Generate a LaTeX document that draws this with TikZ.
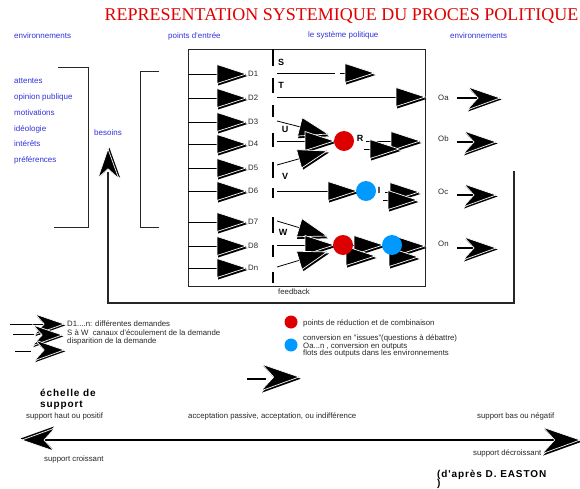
\documentclass[tikz,border=0pt]{standalone}
\usepackage{fontspec}
\setmainfont{Liberation Sans}
\newfontfamily\titlefont{Liberation Serif}
\newfontfamily\spacedbold[LetterSpace=9]{Liberation Sans Bold}
\definecolor{tblue}{RGB}{50,50,220}
\definecolor{tred}{RGB}{225,0,0}
\definecolor{dred}{RGB}{220,0,0}
\definecolor{dblue}{RGB}{0,153,255}
\definecolor{txt}{RGB}{40,40,40}
\tikzset{
  tri/.pic={
    \fill[black] (-28,-7.5) -- (1.5,2) -- (-28,11.5) -- cycle;
    \filldraw[fill=black,draw=white,line width=0.7] (-29,-9.5) -- (0,0) -- (-29,9.5) -- cycle;
  },
  chev/.pic={
    \fill[black] (1.5,1.5) -- (-31,-9.5) -- (-21,1.5) -- (-32,13.5) -- cycle;
    \filldraw[fill=black,draw=white,line width=0.7] (0,0) -- (-32,-11) -- (-22,0) -- (-33,12) -- cycle;
  },
  boxline/.style={draw=black!85,line width=0.9},
  chanline/.style={draw=black,line width=0.8},
  sepline/.style={draw=black,line width=2},
  headtext/.style={font=\fontsize{8}{9}\selectfont,text=tblue,inner sep=0,anchor=west},
  smalltext/.style={font=\fontsize{7.8}{9}\selectfont,text=txt,inner sep=0,anchor=west},
  boldlab/.style={font=\bfseries\fontsize{9}{10}\selectfont,inner sep=0},
  bigbold/.style={font=\spacedbold\fontsize{10}{11}\selectfont,inner sep=0,anchor=west},
  reddot/.style={circle,fill=dred,minimum size=20,inner sep=0},
  bluedot/.style={circle,fill=dblue,minimum size=20,inner sep=0},
}
\begin{document}
\begin{tikzpicture}[x=1pt,y=-1pt]
\useasboundingbox (0,0) rectangle (580,489);
\fill[white] (0,0) rectangle (580,489);

% title and headings
\node[font=\titlefont\fontsize{18}{20}\selectfont,text=tred,inner sep=0] (title) at (341.5,16) {REPRESENTATION SYSTEMIQUE DU PROCES POLITIQUE};
\node[headtext] (h1) at (14,36) {environnements};
\node[headtext] (h2) at (168,36) {points d'entrée};
\node[headtext] (h3) at (308,35) {le système politique};
\node[headtext] (h4) at (450,36) {environnements};

% left list
\foreach \y/\t [count=\i] in {81/attentes,97/opinion publique,113/motivations,129/idéologie,144/intérêts,160/préférences}
  \node[headtext] (env\i) at (14,\y) {\t};
\node[headtext] (bes) at (94,133) {besoins};

% brackets
\draw[boxline] (58,67) -- (88,67) -- (88,227) -- (54,227);
\draw[boxline] (159,71) -- (140,71) -- (140,227) -- (159,227);

% inner box
\draw[boxline] (188,49) rectangle (425,286);

% separator
\foreach \a/\b in {49/66,78/93,105/117,133/147,162/178,188/198,217/233,245/257,272/283}
  \draw[sepline] (273,\a) -- (273,\b);

% entry rows
\foreach \y/\l [count=\i] in {74/D1,98/D2,122/D3,144/D4,168/D5,191/D6,222/D7,246/D8,268/Dn} {
  \coordinate (in\i) at (188,\y);
  \coordinate (d\i) at (246,\y);
  \draw[chanline] (in\i) -- (d\i);
  \pic at (d\i) {tri};
  \node[smalltext] (lab\i) at (248,\y) {\l};
}

% channel labels
\node[boldlab] (S) at (281,62) {S};
\node[boldlab] (T) at (281,85) {T};
\node[boldlab] (U) at (285,129) {U};
\node[boldlab] (V) at (285,176) {V};
\node[boldlab] (W) at (283,232) {W};
\node[boldlab] (R) at (360,138) {R};
\node[boldlab] (I) at (379,190) {I};

% S channel
\coordinate (s0) at (277,73); \coordinate (s1) at (335,73);
\draw[chanline] (s0) -- (s1);
\draw[chanline] (340,73) -- (346,73);
\pic at (374,73) {tri};
% T channel
\coordinate (t0) at (277,97); \coordinate (t1) at (425,97);
\draw[chanline] (t0) -- (t1);
\pic at (t1) {tri};
% U / D4 / V
\coordinate (u0) at (277,121); \coordinate (u1) at (328,134);
\draw[chanline] (u0) -- (u1); \pic[rotate=-14.3] at (u1) {tri};
\coordinate (m0) at (277,141); \coordinate (m1) at (334,141);
\draw[chanline] (m0) -- (m1); \pic at (m1) {tri};
\coordinate (v0) at (277,165); \coordinate (v1) at (327,151);
\draw[chanline] (v0) -- (v1); \pic[rotate=15.6] at (v1) {tri};
% R outputs
\coordinate (ro1) at (420,141);
\draw[chanline] (366,141) -- (ro1); \pic at (ro1) {tri};
\draw[chanline] (364,149) -- (371,149); \pic at (399,149) {tri};
% D6 / I
\coordinate (i0) at (277,191); \coordinate (i1) at (357,191);
\draw[chanline] (i0) -- (i1); \pic at (i1) {tri};
\draw[chanline] (385,192) -- (419,192); \pic at (419,192) {tri};
\draw[chanline] (383,200) -- (390,200); \pic at (417,200) {tri};
% W / D8 / Dn
\coordinate (w0) at (277,221); \coordinate (w1) at (327,236);
\draw[chanline] (w0) -- (w1); \pic[rotate=-16.7] at (w1) {tri};
\coordinate (e0) at (277,245); \coordinate (e1) at (334,245);
\draw[chanline] (e0) -- (e1); \pic at (e1) {tri};
\coordinate (n0) at (277,267); \coordinate (n1) at (327,252);
\draw[chanline] (n0) -- (n1); \pic[rotate=16.7] at (n1) {tri};
\draw[chanline] (353,245) -- (383,245); \pic at (383,245) {tri};
\pic at (375,256) {tri};
\draw[chanline] (402,246) -- (425,246); \pic at (425,246) {tri};
\pic at (418,257) {tri};

% dots
\node[reddot] (r1) at (344,141) {};
\node[bluedot] (b1) at (366,191) {};
\node[reddot] (r2) at (343,245) {};
\node[bluedot] (b2) at (392,245) {};

% outputs
\foreach \y/\o/\yy/\tip in {98/Oa/98/500,139/Ob/142/496,192/Oc/195/496,244/On/248/496} {
  \node[smalltext] (\o) at (438,\y) {\o};
  \coordinate (\o s) at (457,\yy);
  \coordinate (\o t) at (\tip,\yy);
  \draw[line width=1.5] (\o s) -- ++(24,0);
  \pic at (\o t) {chev};
}

% feedback loop
\coordinate (fb1) at (514,171);
\coordinate (fb2) at (514,303);
\coordinate (fb3) at (108,303);
\coordinate (fbt) at (108,149);
\draw[boxline,line width=1.2] (fb1) -- (fb2) -- (fb3) -- (108,172);
\pic[rotate=90,scale=0.9] at (fbt) {chev};
\node[smalltext,anchor=center] (fbl) at (294,292) {feedback};

% legend left
\draw[line width=1] (10,324) -- (45,324);
\draw[line width=1] (13,334) -- (40,334);
\draw[line width=1] (15,351) -- (31,351);
\pic[scale=0.9] at (64,324) {chev};
\pic[scale=0.9] at (62,335) {chev};
\pic[scale=0.9] at (64,350) {chev};
\node[smalltext] (lg1) at (67,324) {D1....n: différentes demandes};
\node[smalltext] (lg2) at (67,332.5) {S à W\ \ canaux d'écoulement de la demande};
\node[smalltext] (lg3) at (67,341) {disparition de la demande};

% legend right
\node[circle,fill=dred,minimum size=13,inner sep=0] (lr) at (291,322) {};
\node[circle,fill=dblue,minimum size=13,inner sep=0] (lb) at (291,345) {};
\node[smalltext] (lt1) at (303,323) {points de réduction et de combinaison};
\node[smalltext] (lt2) at (303,338) {conversion en "issues"(questions à débattre)};
\node[smalltext] (lt3) at (303,346) {Oa...n , conversion en outputs};
\node[smalltext] (lt4) at (303,353.5) {flots des outputs dans les environnements};
\draw[line width=1.5] (247,379) -- (266,379);
\pic[scale=1.15] at (299,377) {chev};

% bottom scale
\node[bigbold] (ech1) at (40,393) {échelle de};
\node[bigbold] (ech2) at (40,405) {support};
\node[smalltext] (sc1) at (26,416) {support haut ou positif};
\node[smalltext] (sc2) at (188,416) {acceptation passive, acceptation, ou indifférence};
\node[smalltext] (sc3) at (477,416) {support bas ou négatif};
\coordinate (sl) at (22,440);
\coordinate (sr) at (580,440);
\draw[line width=2] (40,440) -- (562,440);
\pic[rotate=180] at (sl) {chev};
\pic[scale=1.15] at (sr) {chev};
\node[smalltext] (sc4) at (44,459) {support croissant};
\node[smalltext] (sc5) at (473,453) {support décroissant};
\node[bigbold] (easton) at (437,475) {(d'après D. EASTON};
\node[bigbold] (easton2) at (437,484) {)};
\end{tikzpicture}
\end{document}
